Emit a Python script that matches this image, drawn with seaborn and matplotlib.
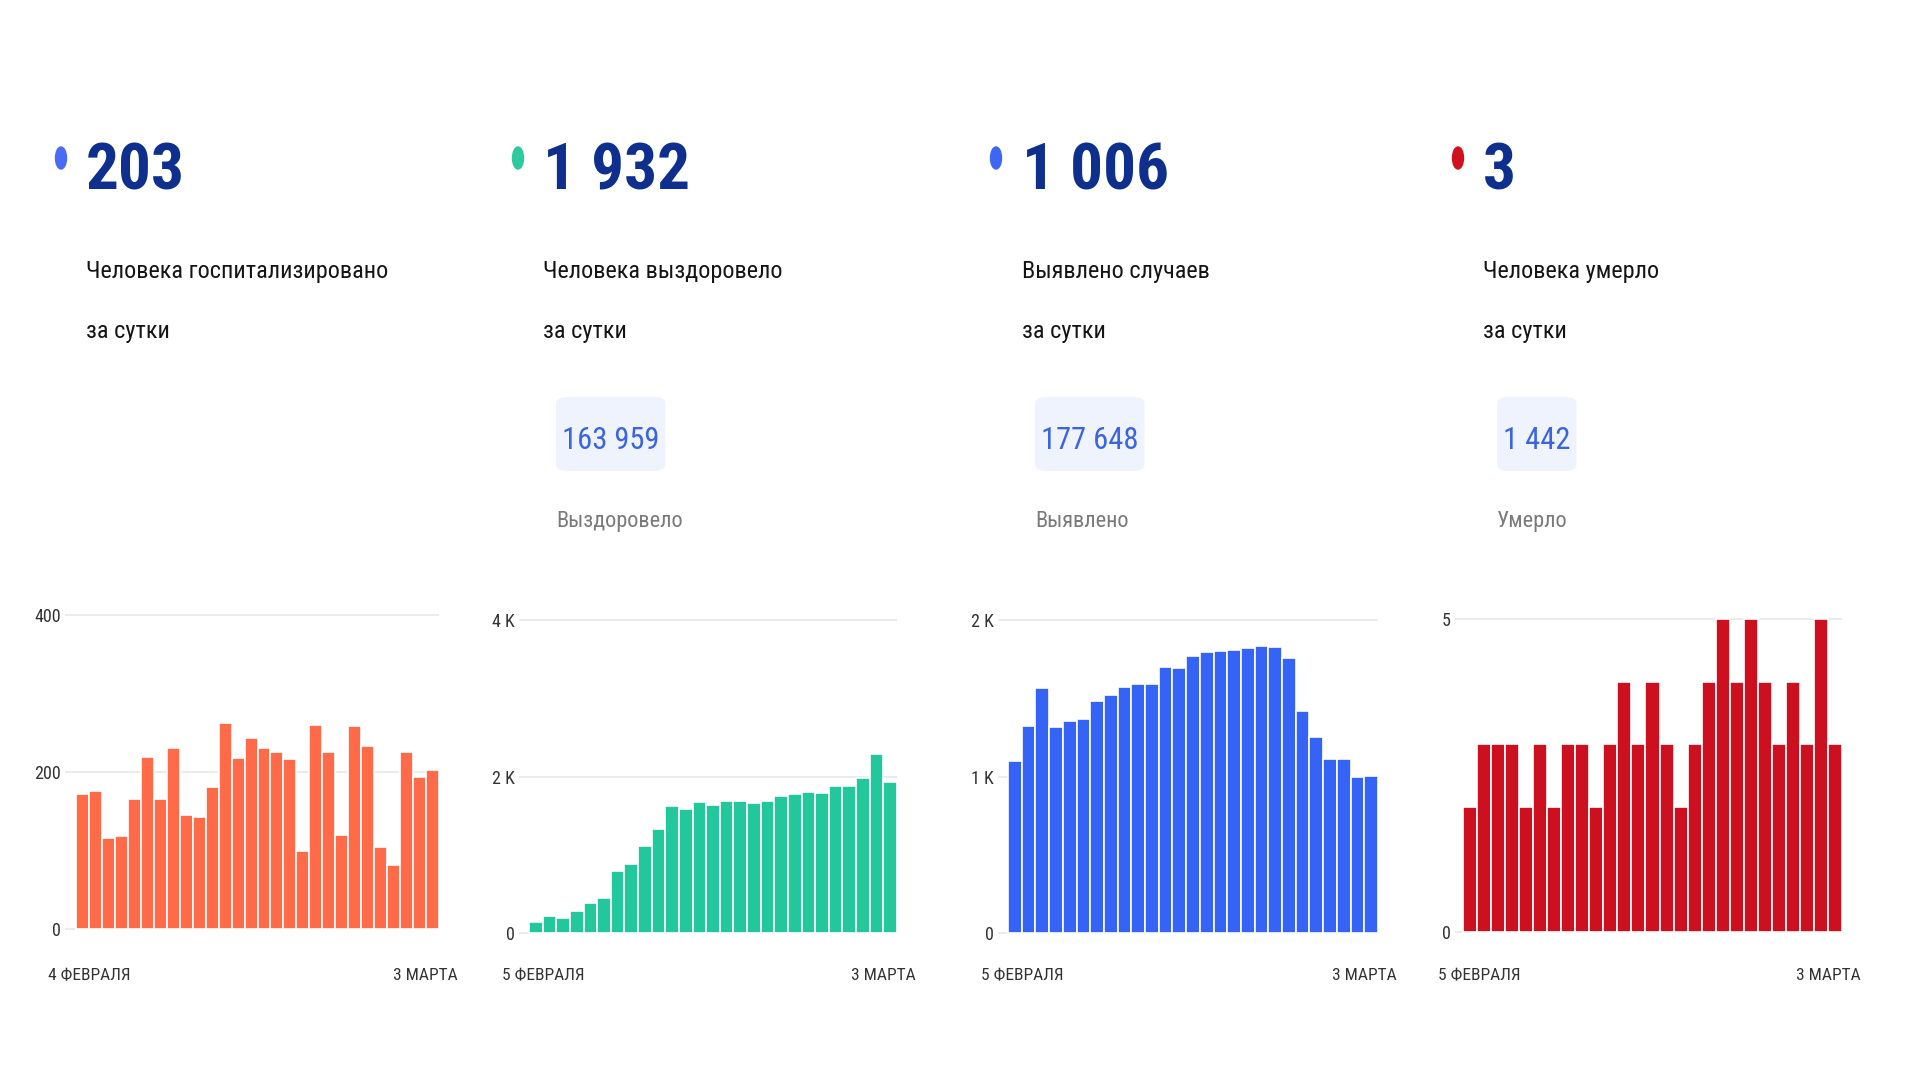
import matplotlib
matplotlib.use("Agg")
import matplotlib.pyplot as plt
from matplotlib.patches import Ellipse, FancyBboxPatch
import seaborn as sns

# ---------------- data ----------------
hospitalized = [172, 176, 116, 119, 166, 219, 165, 231, 145, 143, 181, 262, 218, 243,
                231, 225, 217, 100, 260, 225, 120, 258, 233, 105, 82, 226, 194, 203]
recovered = [145, 217, 196, 281, 387, 443, 796, 881, 1111, 1328, 1617, 1591, 1668, 1638,
             1681, 1681, 1660, 1681, 1757, 1774, 1796, 1791, 1877, 1877, 1979, 2289, 1932]
cases = [1100, 1321, 1568, 1317, 1353, 1370, 1485, 1523, 1572, 1589, 1594, 1700, 1694, 1772,
         1796, 1804, 1811, 1823, 1832, 1828, 1755, 1421, 1255, 1115, 1109, 1000, 1006]
deaths = [2, 3, 3, 3, 2, 3, 2, 3, 3, 2, 3, 4, 3, 4, 3, 2, 3, 4, 5, 4, 5, 4, 3, 4, 3, 5, 3]

big_numbers = ["203", "1 932", "1 006", "3"]
subtitles_1 = ["Человека госпитализировано", "Человека выздоровело", "Выявлено случаев", "Человека умерло"]
subtitles_2 = ["за сутки", "за сутки", "за сутки", "за сутки"]
totals = [None, "163 959", "177 648", "1 442"]
total_labels = [None, "Выздоровело", "Выявлено", "Умерло"]
start_labels = ["4 ФЕВРАЛЯ", "5 ФЕВРАЛЯ", "5 ФЕВРАЛЯ", "5 ФЕВРАЛЯ"]
end_labels = ["3 МАРТА", "3 МАРТА", "3 МАРТА", "3 МАРТА"]
y_ticks = [[0, 200, 400], [0, 2000, 4000], [0, 1000, 2000], [0, 5]]
y_ticklabels = [["0", "200", "400"], ["0", "2 K", "4 K"], ["0", "1 K", "2 K"], ["0", "5"]]

bar_colors = ["#FF6B48", "#22C79C", "#3563F6", "#CC1020"]
dot_colors = ["#4A6CF4", "#2EC99E", "#3D66F5", "#D0101E"]

# ---------------- style ----------------
sns.set_theme(style="white")
FONT = ["Roboto Condensed", "Liberation Sans Narrow", "Open Sans Condensed", "Roboto", "DejaVu Sans"]
plt.rcParams["font.family"] = FONT
plt.rcParams["font.stretch"] = "condensed"

W, H = 1920, 1080
fig = plt.figure(figsize=(19.2, 10.8), dpi=100)
fig.patch.set_facecolor("white")

def fx(x):
    return x / W

def fy(y):
    return 1 - y / H

# ---------------- headers ----------------
dot_x = [61, 518, 996, 1458]
num_x = [86, 543, 1022, 1483]
for i in range(4):
    fig.add_artist(Ellipse((fx(dot_x[i]), fy(158)), 11 / W, 22 / H,
                           transform=fig.transFigure, color=dot_colors[i]))
    fig.text(fx(num_x[i]), fy(189), big_numbers[i], fontsize=47, fontweight="bold",
             color="#0E2F8E", ha="left", va="baseline")
    fig.text(fx(num_x[i]), fy(278), subtitles_1[i], fontsize=17.5, color="#151515",
             ha="left", va="baseline")
    fig.text(fx(num_x[i]), fy(338), subtitles_2[i], fontsize=17.5, color="#151515",
             ha="left", va="baseline")

fig.canvas.draw()
renderer = fig.canvas.get_renderer()
box_left = [None, 556, 1035, 1497]
for i in range(1, 4):
    l = box_left[i]
    t = fig.text(fx(l + 6), fy(449), totals[i], fontsize=22, color="#3C64E0",
                 ha="left", va="baseline", zorder=3)
    ext = t.get_window_extent(renderer=renderer)
    r = l + ext.width + 12
    fig.add_artist(FancyBboxPatch((fx(l), fy(471)), (r - l) / W, (471 - 397) / H,
                                  boxstyle="round,pad=0,rounding_size=0.006",
                                  transform=fig.transFigure, facecolor="#EEF3FD",
                                  edgecolor="none", zorder=1))
    fig.text(fx(l), fy(527), total_labels[i], fontsize=16, color="#7A7A7A",
             ha="left", va="baseline")

# ---------------- charts ----------------
series = [hospitalized, recovered, cases, deaths]
# left gridline px, right px, zero px, top-tick px, first bar px
geo = [(65, 439, 929, 615, 76), (519, 897, 933, 620, 529),
       (998, 1378, 933, 620, 1008), (1455, 1842, 932, 619, 1463)]

for i in range(4):
    vals = series[i]
    n = len(vals)
    left, right, y0, ytop, bar0 = geo[i]
    vmax = y_ticks[i][-1]
    ppu = (y0 - ytop) / vmax
    m = 0.03
    bottom_px = y0 + m * vmax * ppu
    top_px = ytop - m * vmax * ppu
    ax = fig.add_axes([fx(left), fy(bottom_px), (right - left) / W, (bottom_px - top_px) / H])
    sns.barplot(x=list(range(n)), y=vals, color=bar_colors[i], saturation=1, width=1,
                edgecolor="white", linewidth=1.2, ax=ax)
    bw = (right - bar0) / n
    pad = (bar0 - left) / bw
    ax.set_xlim(-0.5 - pad, n - 0.5)
    ax.set_ylim(-m * vmax, (1 + m) * vmax)
    ax.set_xticks([])
    ax.set_xlabel("")
    ax.set_yticks(y_ticks[i])
    ax.set_yticklabels(y_ticklabels[i])
    ax.tick_params(axis="y", length=0, pad=3, labelsize=13, labelcolor="#333333")
    for lab in ax.get_yticklabels():
        lab.set_family(FONT)
    ax.yaxis.grid(True, color="#EBEBEB", linewidth=1.5)
    ax.set_axisbelow(True)
    for s in ax.spines.values():
        s.set_visible(False)
    ax.set_facecolor("none")
    fig.text(fx(left - 17), fy(980), start_labels[i], fontsize=12.5, color="#333333",
             ha="left", va="baseline")
    fig.text(fx(right + 19), fy(980), end_labels[i], fontsize=12.5, color="#333333",
             ha="right", va="baseline")

fig.savefig("out.png", dpi=100, facecolor="white")
